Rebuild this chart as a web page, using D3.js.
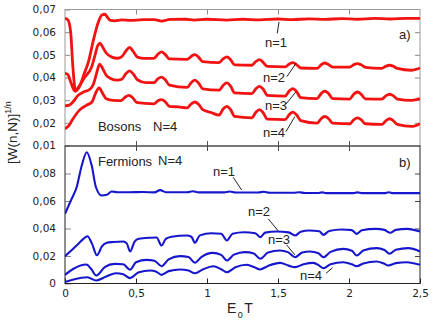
<!DOCTYPE html>
<html><head><meta charset="utf-8">
<script src="https://cdn.jsdelivr.net/npm/d3@7"></script>
<style>
html,body{margin:0;padding:0;background:#fff;}
svg{display:block;font-family:"Liberation Sans",Arial,sans-serif;}
</style></head>
<body>
<svg id="c" width="436" height="327"></svg>
<script>
// ---------- data (t = E0*T, value = [W(n,N)]^(1/n)) ----------
const xTicks = [0, 0.5, 1, 1.5, 2, 2.5];
const xTickLabels = ["0", "0,5", "1", "1,5", "2", "2,5"];
const topYTicks = [0.01, 0.02, 0.03, 0.04, 0.05, 0.06, 0.07];
const topYTickLabels = ["0,01", "0,02", "0,03", "0,04", "0,05", "0,06", "0,07"];
const botYTicks = [0, 0.02, 0.04, 0.06, 0.08];
const botYTickLabels = ["0", "0,02", "0,04", "0,06", "0,08"];

const bosonN1 = [[0,0.0661],[0.02,0.0655],[0.04,0.060],[0.055,0.045],[0.075,0.0340],[0.1,0.0358],[0.14,0.0425],[0.165,0.0469],[0.2,0.0565],[0.235,0.0645],[0.26,0.0676],[0.28,0.0679],[0.3,0.0665],[0.32,0.0652],[0.35,0.0650],[0.4,0.0654],[0.46,0.0652],[0.55,0.0655],[0.63,0.0655],[0.68,0.0649],[0.74,0.0656],[0.85,0.0657],[0.91,0.0653],[1.0,0.0657],[1.14,0.0653],[1.25,0.0657],[1.37,0.0654],[1.5,0.0658],[1.6,0.0655],[1.72,0.0659],[1.83,0.0656],[1.95,0.0660],[2.06,0.0657],[2.18,0.0661],[2.29,0.0658],[2.4,0.0661],[2.5,0.0661]];
const bosonN2 = [[0,0.0418],[0.02,0.0413],[0.04,0.038],[0.07,0.0340],[0.1,0.0362],[0.14,0.0402],[0.188,0.0447],[0.211,0.0498],[0.23,0.0540],[0.245,0.0552],[0.262,0.0538],[0.29,0.0508],[0.33,0.0490],[0.37,0.0485],[0.40,0.0492],[0.43,0.0518],[0.455,0.0533],[0.48,0.0515],[0.51,0.0490],[0.56,0.0484],[0.625,0.0484],[0.655,0.0503],[0.68,0.0513],[0.705,0.0502],[0.735,0.0482],[0.86,0.0480],[0.89,0.0494],[0.915,0.0501],[0.94,0.0490],[0.97,0.0470],[1.085,0.0466],[1.115,0.0483],[1.14,0.0491],[1.165,0.0479],[1.195,0.0456],[1.315,0.0454],[1.345,0.0471],[1.37,0.0479],[1.395,0.0467],[1.425,0.0449],[1.55,0.0447],[1.58,0.0460],[1.605,0.0466],[1.63,0.0457],[1.66,0.0442],[1.775,0.0440],[1.805,0.0457],[1.83,0.0464],[1.855,0.0457],[1.885,0.0446],[2.005,0.0446],[2.035,0.0457],[2.06,0.0461],[2.085,0.0456],[2.115,0.0445],[2.231,0.0440],[2.261,0.0450],[2.286,0.0454],[2.311,0.0450],[2.341,0.0440],[2.44,0.0432],[2.5,0.0442]];
const bosonN3 = [[0,0.0275],[0.03,0.0278],[0.06,0.0295],[0.09,0.0320],[0.13,0.0336],[0.17,0.0345],[0.2,0.0370],[0.225,0.0425],[0.244,0.0459],[0.265,0.0440],[0.29,0.0410],[0.32,0.0396],[0.37,0.0388],[0.40,0.0392],[0.43,0.0418],[0.455,0.0429],[0.48,0.0416],[0.51,0.0390],[0.57,0.0377],[0.625,0.0377],[0.655,0.0395],[0.68,0.0402],[0.705,0.0391],[0.735,0.0366],[0.86,0.0356],[0.89,0.0378],[0.915,0.0388],[0.94,0.0376],[0.97,0.0350],[1.085,0.0344],[1.115,0.0366],[1.14,0.0376],[1.165,0.0363],[1.195,0.0332],[1.315,0.0329],[1.345,0.0351],[1.37,0.0361],[1.395,0.0349],[1.425,0.0321],[1.55,0.0318],[1.58,0.0341],[1.605,0.0351],[1.63,0.0339],[1.66,0.0311],[1.775,0.0307],[1.805,0.0330],[1.83,0.0340],[1.855,0.0330],[1.885,0.0307],[2.005,0.0305],[2.035,0.0327],[2.06,0.0336],[2.085,0.0327],[2.115,0.0306],[2.231,0.0305],[2.261,0.0320],[2.286,0.0326],[2.311,0.0320],[2.341,0.0305],[2.44,0.0299],[2.5,0.0307]];
const bosonN4 = [[0,0.0174],[0.03,0.0190],[0.05,0.0211],[0.1,0.0255],[0.15,0.0277],[0.19,0.0292],[0.215,0.0330],[0.24,0.0354],[0.265,0.0330],[0.29,0.0306],[0.34,0.0299],[0.395,0.0298],[0.425,0.0314],[0.45,0.0321],[0.475,0.0312],[0.505,0.0290],[0.56,0.0286],[0.625,0.0284],[0.655,0.0297],[0.68,0.0302],[0.705,0.0294],[0.735,0.0273],[0.80,0.0270],[0.86,0.0266],[0.89,0.0284],[0.915,0.0292],[0.94,0.0282],[0.97,0.0258],[1.03,0.0245],[1.085,0.0234],[1.115,0.0262],[1.14,0.0273],[1.165,0.0259],[1.195,0.0228],[1.315,0.0222],[1.345,0.0247],[1.37,0.0258],[1.395,0.0245],[1.425,0.0216],[1.55,0.0214],[1.58,0.0237],[1.605,0.0247],[1.63,0.0236],[1.66,0.0210],[1.775,0.0199],[1.805,0.0219],[1.83,0.0228],[1.855,0.0219],[1.885,0.0199],[2.005,0.0196],[2.035,0.0214],[2.06,0.0222],[2.085,0.0214],[2.115,0.0196],[2.231,0.0193],[2.261,0.0210],[2.286,0.0218],[2.311,0.0210],[2.341,0.0193],[2.44,0.0184],[2.5,0.0196]];

const fermionN1 = [[0,0.0507],[0.047,0.0616],[0.082,0.0700],[0.118,0.0858],[0.153,0.0955],[0.188,0.0858],[0.218,0.0700],[0.258,0.0640],[0.294,0.0645],[0.329,0.0669],[0.37,0.0664],[0.45,0.0664],[0.55,0.0665],[0.63,0.0663],[0.67,0.0679],[0.71,0.0664],[0.86,0.0664],[0.9,0.0671],[0.94,0.0663],[1.12,0.0663],[1.16,0.0669],[1.2,0.0662],[1.36,0.0662],[1.4,0.0667],[1.44,0.0660],[1.61,0.0660],[1.65,0.0664],[1.69,0.0658],[1.78,0.0658],[1.81,0.0663],[1.84,0.0657],[2.03,0.0657],[2.06,0.0663],[2.09,0.0657],[2.25,0.0657],[2.28,0.0664],[2.31,0.0657],[2.5,0.0657]];
const fermionN2 = [[0,0.0199],[0.05,0.0245],[0.1,0.0295],[0.13,0.0325],[0.158,0.0344],[0.19,0.0290],[0.225,0.0205],[0.26,0.0270],[0.29,0.0295],[0.34,0.0302],[0.41,0.0306],[0.435,0.0292],[0.458,0.0233],[0.49,0.0305],[0.52,0.0325],[0.6,0.0333],[0.645,0.0335],[0.68,0.0276],[0.71,0.0325],[0.75,0.0340],[0.857,0.0349],[0.89,0.0340],[0.915,0.0296],[0.95,0.0350],[1.03,0.0366],[1.1,0.0362],[1.14,0.0313],[1.18,0.0362],[1.26,0.0373],[1.34,0.0366],[1.375,0.0337],[1.41,0.0370],[1.49,0.0378],[1.575,0.0372],[1.62,0.0349],[1.66,0.0376],[1.72,0.0385],[1.79,0.0380],[1.82,0.0354],[1.86,0.0382],[1.95,0.0393],[2.02,0.0388],[2.055,0.0361],[2.09,0.0387],[2.19,0.0397],[2.25,0.0390],[2.29,0.0369],[2.33,0.0390],[2.41,0.0397],[2.5,0.0378]];
const fermionN3 = [[0,0.0063],[0.06,0.0107],[0.15,0.0138],[0.185,0.0105],[0.22,0.0058],[0.28,0.0119],[0.35,0.0143],[0.41,0.0140],[0.458,0.0100],[0.50,0.0155],[0.575,0.0172],[0.63,0.0166],[0.68,0.0126],[0.73,0.0175],[0.81,0.0199],[0.87,0.0192],[0.915,0.0151],[0.96,0.0192],[1.04,0.0223],[1.1,0.0208],[1.14,0.0167],[1.19,0.0210],[1.268,0.0228],[1.33,0.0218],[1.375,0.0180],[1.43,0.0225],[1.514,0.0240],[1.57,0.0228],[1.62,0.0191],[1.67,0.0225],[1.725,0.0233],[1.785,0.0220],[1.82,0.0191],[1.87,0.0230],[1.96,0.0252],[2.02,0.0238],[2.055,0.0204],[2.1,0.0240],[2.195,0.0257],[2.25,0.0244],[2.285,0.0216],[2.33,0.0245],[2.418,0.0257],[2.5,0.0233]];
const fermionN4 = [[0,0.0010],[0.06,0.0029],[0.157,0.0046],[0.22,0.0022],[0.29,0.0051],[0.36,0.0075],[0.41,0.0068],[0.458,0.0039],[0.52,0.0082],[0.6,0.0095],[0.64,0.0088],[0.68,0.0063],[0.73,0.0090],[0.81,0.0102],[0.87,0.0094],[0.915,0.0075],[0.97,0.0102],[1.044,0.0126],[1.1,0.0104],[1.139,0.0082],[1.2,0.0118],[1.28,0.0136],[1.335,0.0118],[1.373,0.0102],[1.43,0.0128],[1.514,0.0150],[1.575,0.0130],[1.62,0.0119],[1.68,0.0140],[1.749,0.0150],[1.79,0.0130],[1.82,0.0111],[1.87,0.0140],[1.96,0.0155],[2.02,0.0140],[2.054,0.0126],[2.1,0.0145],[2.195,0.0160],[2.245,0.0145],[2.277,0.0131],[2.33,0.0148],[2.406,0.0155],[2.5,0.0136]];

const bosonSeries = [bosonN1, bosonN2, bosonN3, bosonN4];
const fermionSeries = [fermionN1, fermionN2, fermionN3, fermionN4];

// annotations in data units: [label, tLabel, vLabel, t1, v1, t2, v2]
const topNotes = [["n=1",1.408,0.0535,1.507,0.0645,1.495,0.0595],["n=2",1.394,0.0380,1.563,0.0404,1.627,0.0463],["n=3",1.408,0.0257,1.556,0.0283,1.627,0.0337],["n=4",1.394,0.0138,1.556,0.0161,1.618,0.0227]];
const botNotes = [["n=1",1.042,0.0782,1.185,0.0772,1.244,0.0680],["n=2",1.289,0.0491,1.432,0.0469,1.502,0.0382],["n=3",1.430,0.0284,1.561,0.0280,1.620,0.0207],["n=4",1.655,0.0022,1.838,0.0074,1.885,0.0115]];

// ---------- layout ----------
const svg = d3.select("#c");
const L = 65, R = 420, T1 = 9.5, B1 = 146, B2 = 283.5;
const x = d3.scaleLinear().domain([0, 2.5]).range([L, R]);
const yTop = d3.scaleLinear().domain([0.01, 0.07]).range([B1 - 0.5, T1]);
const yBot = d3.scaleLinear().domain([0, 0.1]).range([B2, B1]);

const defs = svg.append("defs");
defs.append("clipPath").attr("id","clipTop").append("rect").attr("x",L).attr("y",T1).attr("width",R-L).attr("height",B1-T1);
defs.append("clipPath").attr("id","clipBot").append("rect").attr("x",L).attr("y",B1).attr("width",R-L).attr("height",B2-B1);

const tickCol = "#8a8a8a";
function styleAxis(g, col){
  g.select(".domain").remove();
  g.selectAll(".tick line").attr("stroke", col);
  g.selectAll(".tick text").attr("fill","#222").style("font-family","'DejaVu Sans',sans-serif").style("font-size","10.5px");
}
const inner = [0.5,1,1.5,2];

// top panel ticks
svg.append("g").attr("transform",`translate(${L},0)`)
  .call(d3.axisLeft(yTop).tickValues(topYTicks).tickFormat((d,i)=>topYTickLabels[i]).tickSizeInner(-5).tickSizeOuter(0).tickPadding(9))
  .call(g=>styleAxis(g,tickCol));
svg.append("g").attr("transform",`translate(${R},0)`)
  .call(d3.axisRight(yTop).tickValues(topYTicks.slice(1,-1)).tickFormat("").tickSizeInner(-5).tickSizeOuter(0))
  .call(g=>styleAxis(g,tickCol));
svg.append("g").attr("transform",`translate(0,${T1})`)
  .call(d3.axisTop(x).tickValues(inner).tickFormat("").tickSizeInner(-5).tickSizeOuter(0))
  .call(g=>styleAxis(g,tickCol));
svg.append("g").attr("transform",`translate(0,${B1})`)
  .call(d3.axisBottom(x).tickValues(inner).tickFormat("").tickSizeInner(-5).tickSizeOuter(0))
  .call(g=>styleAxis(g,"#555"));

// bottom panel ticks
svg.append("g").attr("transform",`translate(${L},0)`)
  .call(d3.axisLeft(yBot).tickValues(botYTicks).tickFormat((d,i)=>botYTickLabels[i]).tickSizeInner(-6).tickSizeOuter(0).tickPadding(9))
  .call(g=>styleAxis(g,tickCol));
svg.append("g").attr("transform",`translate(${R},0)`)
  .call(d3.axisRight(yBot).tickValues(botYTicks.slice(1)).tickFormat("").tickSizeInner(-5).tickSizeOuter(0))
  .call(g=>styleAxis(g,"#444"));
svg.append("g").attr("transform",`translate(0,${B1})`)
  .call(d3.axisTop(x).tickValues(inner).tickFormat("").tickSizeInner(-5).tickSizeOuter(0))
  .call(g=>styleAxis(g,"#444"));
svg.append("g").attr("transform",`translate(0,${B2})`)
  .call(d3.axisBottom(x).tickValues(xTicks).tickFormat((d,i)=>xTickLabels[i]).tickSizeInner(-5).tickSizeOuter(0).tickPadding(6))
  .call(g=>styleAxis(g,"#222"));

// frames
svg.append("rect").attr("x",L).attr("y",T1).attr("width",R-L).attr("height",B1-T1).attr("fill","none").attr("stroke","#9a9a9a").attr("stroke-width",1);
svg.append("rect").attr("x",L).attr("y",B1).attr("width",R-L).attr("height",B2-B1).attr("fill","none").attr("stroke","#222").attr("stroke-width",1);

// curves
const lineTop = d3.line().x(d=>x(d[0])).y(d=>yTop(d[1])).curve(d3.curveMonotoneX);
const lineBot = d3.line().x(d=>x(d[0])).y(d=>yBot(d[1])).curve(d3.curveMonotoneX);
svg.append("g").attr("clip-path","url(#clipTop)").selectAll("path").data(bosonSeries).join("path")
  .attr("d",lineTop).attr("fill","none").attr("stroke","#f21212").attr("stroke-width",2.8).attr("stroke-linejoin","round");
svg.append("g").attr("clip-path","url(#clipBot)").selectAll("path").data(fermionSeries).join("path")
  .attr("d",lineBot).attr("fill","none").attr("stroke","#1616cc").attr("stroke-width",2.1).attr("stroke-linejoin","round");

// annotations
function notes(data, y){
  const g = svg.append("g");
  g.selectAll("line").data(data).join("line")
    .attr("x1",d=>x(d[3])).attr("y1",d=>y(d[4])).attr("x2",d=>x(d[5])).attr("y2",d=>y(d[6]))
    .attr("stroke","#222").attr("stroke-width",1);
  g.selectAll("text").data(data).join("text")
    .attr("x",d=>x(d[1])).attr("y",d=>y(d[2])).text(d=>d[0])
    .attr("fill","#222").style("font-size","13px");
}
notes(topNotes, yTop);
notes(botNotes, yBot);

function label(txt, t, v, y, size){
  svg.append("text").attr("x",x(t)).attr("y",y(v)).text(txt).attr("fill","#222").style("font-size",(size||13)+"px");
}
label("Bosons", 0.232, 0.0164, yTop);
label("N=4", 0.62, 0.0164, yTop);
label("a)", 2.352, 0.0572, yTop);
label("Fermions", 0.232, 0.0855, yBot);
label("N=4", 0.655, 0.0865, yBot);
label("b)", 2.352, 0.0844, yBot);

// axis titles
const xt = svg.append("text").attr("x",227).attr("y",313).attr("fill","#222").style("font-size","14px");
xt.append("tspan").text("E");
xt.append("tspan").text("0").attr("dy",5).style("font-size","9px").attr("dx",1.5);
xt.append("tspan").text("T").attr("dy",-5).attr("dx",1.5);

const yt = svg.append("text").attr("transform","translate(17,164) rotate(-90)").attr("fill","#222").style("font-size","13.5px");
yt.append("tspan").text("[W(n,N)]");
yt.append("tspan").text("1/n").attr("dy",-6).style("font-size","9px");
</script>
</body></html>
